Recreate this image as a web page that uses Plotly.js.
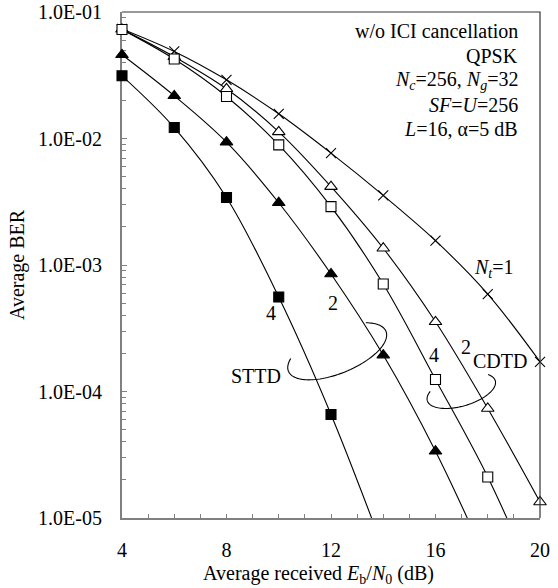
<!DOCTYPE html>
<html>
<head>
<meta charset="utf-8">
<script src="https://cdn.plot.ly/plotly-3.0.1.min.js"></script>
<style>html,body{margin:0;padding:0;background:#fff;}#chart{width:558px;height:588px;}</style>
</head>
<body>
<div id="chart"></div>
<script>
// ---- data ----
const snr = [4, 6, 8, 10, 12, 14, 16, 18, 20];               // Eb/N0 (dB)
const berNt1   = [0.0735, 0.0488, 0.0291, 0.01567, 0.00766, 0.00355, 0.001557, 5.89e-4, 1.717e-4];
const berCdtd2 = [0.0730, 0.0443, 0.0247, 0.01129, 0.004166, 0.001356, 3.557e-4, 7.34e-5, 1.338e-5];
const berCdtd4 = [0.0727, 0.04246, 0.02148, 0.008905, 0.002892, 7.07e-4, 1.245e-4, 2.11e-5, 2.5e-6];
const snrSttd2 = [4, 6, 8, 10, 12, 14, 16, 18];
const berSttd2 = [0.0459, 0.02176, 0.00936, 0.003107, 8.49e-4, 1.94e-4, 3.37e-5, 4.4e-6];
const snrSttd4 = [4, 6, 8, 10, 12, 14];
const berSttd4 = [0.0313, 0.01221, 0.00342, 5.58e-4, 6.58e-5, 5.7e-6];
const yTickVals = [1e-5, 1e-4, 1e-3, 1e-2, 1e-1];
const yTickText = ['1.0E-05', '1.0E-04', '1.0E-03', '1.0E-02', '1.0E-01'];
const xTickVals = [4, 8, 12, 16, 20];

const FONT = 'Liberation Serif, Times New Roman, serif';
const FS = 20;
const YMIN = 1e-5;

const series = [
  {x: snr, y: berNt1,   symbol: 'x-thin-open', color: '#000', size: 10},
  {x: snr, y: berCdtd2, symbol: 'triangle-up', color: '#fff', size: 11},
  {x: snr, y: berCdtd4, symbol: 'square',      color: '#fff', size: 10},
  {x: snrSttd2, y: berSttd2, symbol: 'triangle-up', color: '#000', size: 11},
  {x: snrSttd4, y: berSttd4, symbol: 'square',      color: '#000', size: 10}
];

const traces = [];
series.forEach(s => {
  traces.push({x: s.x, y: s.y, type: 'scatter', mode: 'lines',
    line: {color: '#000', width: 1.1, shape: 'spline', smoothing: 1},
    hoverinfo: 'skip', showlegend: false});
});
series.forEach(s => {
  const xs = [], ys = [];
  s.x.forEach((v, i) => { if (s.y[i] >= YMIN) { xs.push(v); ys.push(s.y[i]); } });
  traces.push({x: xs, y: ys, type: 'scatter', mode: 'markers', cliponaxis: false,
    marker: {symbol: s.symbol, size: s.size, color: s.color,
             line: {color: '#000', width: 1.1}},
    showlegend: false});
});

// plot area in pixels
const PL = 122, PR = 540, PT = 12, PB = 518, PW = PR - PL, PH = PB - PT;
function arcPath(cx, cy, a, b, phiDeg, t0, t1) {
  const phi = phiDeg * Math.PI / 180;
  const ux = Math.cos(phi), uy = Math.sin(phi), nx = -Math.sin(phi), ny = Math.cos(phi);
  let d = '';
  for (let t = t0; t <= t1 + 0.001; t += 3) {
    const r = t * Math.PI / 180;
    const px = cx + a * Math.cos(r) * ux + b * Math.sin(r) * nx;
    const py = cy + a * Math.cos(r) * uy + b * Math.sin(r) * ny;
    d += (d ? ' L' : 'M') + ((px - PL) / PW).toFixed(5) + ',' + ((PB - py) / PH).toFixed(5);
  }
  return d;
}

const shapes = [
  {type: 'path', xref: 'paper', yref: 'paper', path: 'M0,1 L1,1 L1,0', line: {color: '#333', width: 1.2}},
  {type: 'path', xref: 'paper', yref: 'paper', path: arcPath(337.2, 351.3, 52.7, 22, -22.3, -45, 212), line: {color: '#000', width: 1.1}},
  {type: 'path', xref: 'paper', yref: 'paper', path: arcPath(461.3, 390.7, 35.4, 15.3, -16.4, -31, 213), line: {color: '#000', width: 1.1}}
];

function txt(text, x, y) {
  return {text: text, x: x, y: y, xref: 'x', yref: 'y', showarrow: false,
          xanchor: 'center', yanchor: 'middle', font: {family: FONT, size: FS, color: '#000'}};
}
function info(text, y) {
  return {text: text, x: 0.952, y: y, xref: 'paper', yref: 'paper', showarrow: false,
          xanchor: 'right', yanchor: 'middle', align: 'right', font: {family: FONT, size: FS, color: '#000'}};
}

const annotations = [
  info('w/o ICI cancellation', 0.9615),
  info('QPSK', 0.913),
  info('<i>N</i><sub><i>c</i></sub>=256, <i>N</i><sub><i>g</i></sub>=32', 0.8656),
  info('<i>SF</i>=<i>U</i>=256', 0.816),
  info('<i>L</i>=16, α=5 dB', 0.769),
  txt('<i>N</i><sub><i>t</i></sub>=1', 18.24, -3.024),
  txt('4', 9.70, -3.379),
  txt('2', 12.08, -3.300),
  txt('STTD', 9.13, -3.877),
  txt('4', 15.94, -3.711),
  txt('2', 17.17, -3.648),
  txt('CDTD', 18.47, -3.759)
];

const layout = {
  width: 558, height: 588,
  margin: {l: PL, r: 558 - PR, t: PT, b: 588 - PB},
  paper_bgcolor: '#fff', plot_bgcolor: '#fff',
  showlegend: false,
  font: {family: FONT, size: FS, color: '#000'},
  xaxis: {
    range: [4, 20], tickvals: xTickVals, ticks: 'inside', ticklen: 4, tickcolor: '#808080', tickwidth: 1,
    showline: true, linecolor: '#808080', linewidth: 2, showgrid: false, zeroline: false,
    layer: 'below traces', ticklabelstandoff: 13,
    minor: {dtick: 1, ticks: 'inside', ticklen: 4, tickcolor: '#808080', showgrid: false},
    tickfont: {family: FONT, size: FS, color: '#000'},
    title: {text: 'Average received <i>E</i><sub>b</sub>/<i>N</i><sub>0</sub> (dB)&nbsp;&nbsp;&nbsp;&nbsp;&nbsp;', standoff: 6,
            font: {family: FONT, size: FS, color: '#000'}}
  },
  yaxis: {
    type: 'log', range: [-5, -1], tickvals: yTickVals, ticktext: yTickText,
    ticks: 'inside', ticklen: 5, tickcolor: '#808080', tickwidth: 1,
    showline: true, linecolor: '#808080', linewidth: 2, showgrid: false, zeroline: false,
    layer: 'below traces', ticklabelstandoff: 14,
    minor: {dtick: 'D1', ticks: 'inside', ticklen: 4, tickcolor: '#808080', showgrid: false},
    tickfont: {family: FONT, size: FS, color: '#000'},
    title: {text: 'Average BER', standoff: 8, font: {family: FONT, size: FS, color: '#000'}}
  },
  shapes: shapes,
  annotations: annotations
};

Plotly.newPlot('chart', traces, layout, {displayModeBar: false, staticPlot: true});
</script>
</body>
</html>
